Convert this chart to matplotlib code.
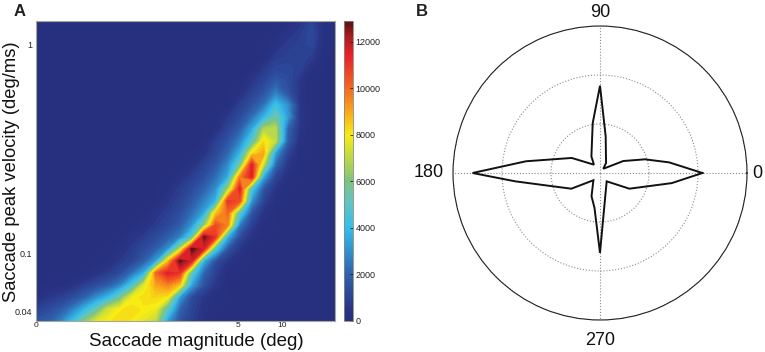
import numpy as np
import matplotlib
matplotlib.use("Agg")
import matplotlib.pyplot as plt
from matplotlib.colors import LinearSegmentedColormap, Normalize
from matplotlib.cm import ScalarMappable

plt.rcParams['font.family'] = ['Liberation Sans', 'DejaVu Sans']

# Density (thousands) read along rows bottom to top: first filled column, then values
row_starts = [0, 0, 0, 2, 5, 6, 7, 8, 9, 10, 11, 11, 12, 13, 14, 15, 15, 16, 17, 17, 18, 19, 20, 20, 21, 22]
row_values = [
    [1.5, 1.8, 2.6, 4, 6, 7.5, 8, 8.2, 8, 7.6, 7, 3.2, 1.5, .8, .2],
    [.9, 1.2, 1.6, 2.5, 3.7, 5.2, 7.2, 8, 8.2, 8, 7.8, 5, 2, 1, .3],
    [.1, .5, .8, 1.2, 1.8, 2.8, 3.8, 5.5, 7.8, 8.2, 8.3, 8, 3.2, 1.2, .5, .1],
    [.1, .3, .8, 1.2, 1.7, 2.6, 4.5, 7.5, 9, 9.5, 8.5, 3.3, 1.4, .5],
    [.3, .7, 1.2, 2.2, 3.7, 10, 11.5, 11, 5, 2, .8, .1],
    [.2, .6, 1, 1.8, 3.2, 8.5, 12.8, 11.5, 3.6, 1.3, .5, .1],
    [.3, .7, 1.2, 1.8, 3, 7, 12.9, 11.5, 4.5, 1.5, .5],
    [.4, .7, 1.2, 1.8, 2.6, 5, 12.7, 11, 3.6, 1.2, .3],
    [.3, .7, 1.1, 1.7, 3, 6, 10.5, 9.5, 2.5, .8, .1],
    [.4, .8, 1.3, 2.2, 3.4, 8.5, 10, 5, 1.5, .4],
    [.5, 1, 1.6, 2.6, 3.8, 11, 10.5, 3, .9, .2],
    [.2, .7, 1.2, 1.9, 2.9, 6.5, 11.5, 4.5, 1.5, .4],
    [.3, .8, 1.3, 2.2, 3.5, 9.5, 11.5, 3.3, 1, .2],
    [.3, .9, 1.6, 2.8, 5.5, 11.5, 7, 2, .5],
    [.4, 1.1, 2, 3.7, 8, 9, 3.2, 1, .1],
    [.8, 1.5, 2.6, 4.8, 8.2, 7, 1.8, .3],
    [.2, 1, 1.8, 3.4, 6.8, 7, 2, .5],
    [.6, 1.2, 2.2, 3.7, 5.5, 3.2, .6],
    [.8, 1.4, 2.3, 4.2, 3, .5],
    [.2, .9, 1.5, 2.6, 1.5, .5],
    [.5, 1, 1.7, 1.3, .5],
    [.6, 1.1, 1.1, .9, .2],
    [.7, .9, 1, .7],
    [.3, .7, .9, 1.1, .1],
    [.4, .7, 1.2, .2],
    [.4, 1, .2],
]
density_columns = 26
x_tick_bins = [0, 16.86, 20.5]
x_tick_labels = ['0', '5', '10']
y_tick_bins = [23, 5.6, 0.8]
y_tick_labels = ['1', '0.1', '0.04']
cbar_ticks = [0, 2000, 4000, 6000, 8000, 10000, 12000]
density_max = 12900

# Polar outline: angle (deg) and radius
outline_theta = [0, 8.7, 16.9, 27.2, 52, 59, 81.2, 88, 90, 98.3, 117.5, 126, 152, 171, 180,
                 185.6, 196, 208.7, 227.7, 250, 261, 270, 280.6, 308.7, 331.9, 352, 360]
outline_r = [2.09, 1.43, .96, .535, .11, .24, .757, 1.36, 1.78, 1.03, .38, .21, .654, 1.53, 2.6,
             1.74, .99, .667, .2, .506, .72, 1.63, .55, .218, .68, 1.48, 2.09]
polar_angles = [0, 90, 180, 270]
polar_labels = ['0', '90', '180', '270']

W, H = 765, 352
fig = plt.figure(figsize=(W / 100, H / 100), dpi=100)


def box(x0, y0, x1, y1):
    return [x0 / W, 1 - y1 / H, (x1 - x0) / W, (y1 - y0) / H]


cmap = LinearSegmentedColormap.from_list('muted_jet', [
    (0.0, '#26307f'), (0.04, '#2a3588'), (0.155, '#2f62ae'), (0.31, '#35bdec'),
    (0.40, '#62c4c0'), (0.465, '#7dc47f'), (0.62, '#f7ec13'), (0.70, '#f9a61c'),
    (0.775, '#f26a21'), (0.89, '#e8202a'), (0.95, '#a81e22'), (1.0, '#5a1012')])
norm = Normalize(0, density_max)

Z = np.zeros((len(row_values), density_columns))
for i, (s, vals) in enumerate(zip(row_starts, row_values)):
    Z[i, s:s + len(vals)] = np.array(vals) * 1000

ax = fig.add_axes(box(36, 21, 335, 321))
ax.contourf(np.arange(density_columns), np.arange(len(row_values)), Z,
            levels=np.linspace(0, density_max, 65), cmap=cmap, norm=norm, extend='both')
ax.set_xlim(0, 24.95)
ax.set_ylim(0, 25)
ax.set_xticks(x_tick_bins, x_tick_labels, fontsize=6)
ax.set_yticks(y_tick_bins, y_tick_labels, fontsize=6.5)
ax.tick_params(axis='y', length=0, pad=3, colors='#222222')
ax.tick_params(axis='x', length=0, pad=0.5, colors='#222222')
for s in ax.spines.values():
    s.set_color('#a9a69c')
    s.set_linewidth(0.8)
fig.text(196 / W, 1 - 341.5 / H, 'Saccade magnitude (deg)', fontsize=13.5,
         ha='center', va='center', color='#111111')
fig.text(12 / W, 1 - 172 / H, 'Saccade peak velocity (deg/ms)', fontsize=13.2,
         rotation=90, ha='center', va='center', color='#111111')

cax = fig.add_axes(box(344, 21, 353, 321))
cb = fig.colorbar(ScalarMappable(norm=norm, cmap=cmap), cax=cax)
cb.set_ticks(cbar_ticks, labels=[str(t) for t in cbar_ticks])
cb.ax.tick_params(labelsize=6.5, length=2, width=0.6, direction='in', pad=2, colors='#222222')
cb.outline.set_edgecolor('#8a8a80')
cb.outline.set_linewidth(0.6)

pax = fig.add_axes(box(453, 26, 747, 320), projection='polar')
pax.plot(np.deg2rad(outline_theta), outline_r, color='#111111', lw=1.4, solid_joinstyle='miter')
pax.set_rlim(0, 3)
pax.set_rticks([1, 2, 3], [])
pax.set_thetagrids(polar_angles, ['', '', '', ''])
pax.grid(True, color='#8c8c8c', ls=':', lw=0.8)
pax.spines['polar'].set_color('#222222')
pax.spines['polar'].set_linewidth(0.8)
for ang, lab, rad in zip(polar_angles, polar_labels, [3.22, 3.27, 3.49, 3.41]):
    pax.text(np.deg2rad(ang), rad, lab, fontsize=13, ha='center', va='center',
             color='#111111', clip_on=False)

fig.text(14 / W, 1 - 12 / H, 'A', fontsize=12, fontweight='bold', va='center', color='#222222')
fig.text(416 / W, 1 - 11 / H, 'B', fontsize=12, fontweight='bold', va='center', color='#222222')

fig.savefig('out.png', dpi=100)
